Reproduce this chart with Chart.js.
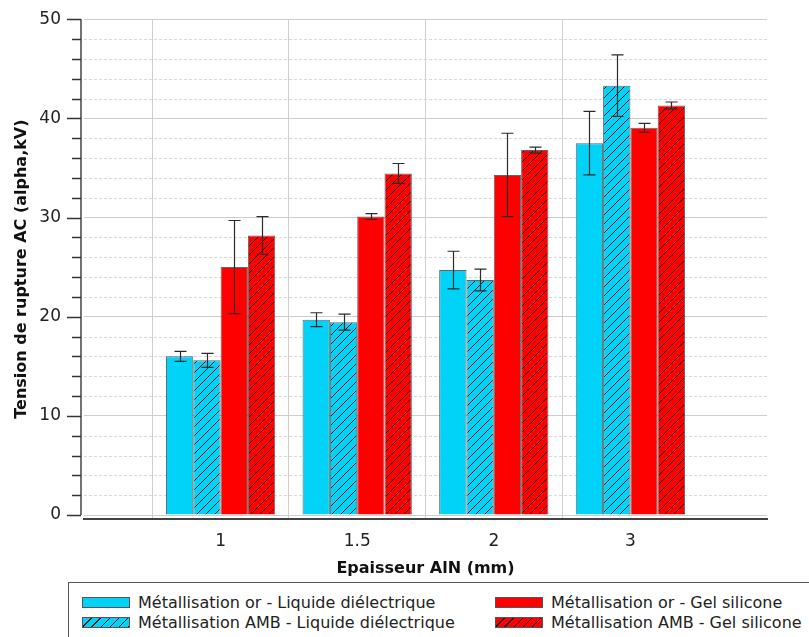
<!DOCTYPE html>
<html>
<head>
<meta charset="utf-8">
<script src="https://cdn.jsdelivr.net/npm/chart.js@4.4.0/dist/chart.umd.min.js"></script>
<style>
  body { margin: 0; background: #fff; }
  #wrap { position: relative; width: 809px; height: 637px; overflow: hidden; }
  #legend {
    position: absolute; left: 68px; top: 582px; width: 800px; height: 80px;
    border: 1.5px solid #555; background: #fff;
    font-family: 'DejaVu Sans', sans-serif; font-size: 16px; color: #222;
  }
  .item { position: absolute; display: flex; align-items: center; height: 20px; }
  .sw { width: 46px; height: 9px; border: 1px solid #555; margin-right: 8px; }
</style>
</head>
<body>
<div id="wrap">
  <canvas id="chart"></canvas>
  <div id="legend"></div>
</div>
<script>
// epaisseur AlN (mm) - empty slots at both ends keep the axis margins
const categories = ['', '1', '1.5', '2', '3', ''];

const orLiquide = [null, 16.0, 19.7, 24.7, 37.5, null];
const ambLiquide = [null, 15.6, 19.45, 23.7, 43.3, null];
const orGel = [null, 25.0, 30.1, 34.3, 39.05, null];
const ambGel = [null, 28.2, 34.45, 36.8, 41.3, null];

const orLiquideErr = [0, 0.5, 0.7, 1.9, 3.2, 0];
const ambLiquideErr = [0, 0.7, 0.8, 1.1, 3.1, 0];
const orGelErr = [0, 4.7, 0.3, 4.2, 0.45, 0];
const ambGelErr = [0, 1.9, 1.0, 0.3, 0.35, 0];

const seriesNames = [
  'Métallisation or - Liquide diélectrique',
  'Métallisation AMB - Liquide diélectrique',
  'Métallisation or - Gel silicone',
  'Métallisation AMB - Gel silicone'
];

const cyan = '#00d3f7';
const red = '#ff0000';

function hatch(color) {
  const c = document.createElement('canvas');
  c.width = c.height = 9;
  const g = c.getContext('2d');
  g.fillStyle = color;
  g.fillRect(0, 0, 9, 9);
  g.strokeStyle = '#1a1a1a';
  g.lineWidth = 1;
  g.beginPath();
  g.moveTo(0, 9); g.lineTo(9, 0);
  g.moveTo(-2, 2); g.lineTo(2, -2);
  g.moveTo(7, 11); g.lineTo(11, 7);
  g.stroke();
  return g.createPattern(c, 'repeat');
}

const fills = [cyan, hatch(cyan), red, hatch(red)];

// dashed minor grid lines, detached y axis line and its ticks
const yDecor = {
  id: 'yDecor',
  beforeDatasetsDraw(chart) {
    const { ctx, chartArea, scales: { y } } = chart;
    ctx.save();
    ctx.strokeStyle = '#d9d9d9';
    ctx.lineWidth = 1;
    ctx.setLineDash([3, 2]);
    y.ticks.forEach(t => {
      if (t.value % 10 === 0) return;
      const py = Math.round(y.getPixelForValue(t.value)) + 0.5;
      ctx.beginPath();
      ctx.moveTo(chartArea.left, py);
      ctx.lineTo(chartArea.right, py);
      ctx.stroke();
    });
    ctx.restore();
  },
  afterDraw(chart) {
    const { ctx, chartArea, scales: { y } } = chart;
    const ax = chartArea.left - 3;
    ctx.save();
    ctx.strokeStyle = '#444';
    ctx.lineWidth = 1.5;
    ctx.beginPath();
    ctx.moveTo(ax, y.getPixelForValue(50));
    ctx.lineTo(ax, y.getPixelForValue(0));
    ctx.stroke();
    ctx.strokeStyle = '#333';
    y.ticks.forEach(t => {
      const py = Math.round(y.getPixelForValue(t.value)) + 0.5;
      const len = t.value % 10 === 0 ? 14 : 9;
      ctx.beginPath();
      ctx.moveTo(ax - len, py);
      ctx.lineTo(ax, py);
      ctx.stroke();
    });
    ctx.restore();
  }
};

const errorBars = {
  id: 'errorBars',
  afterDatasetsDraw(chart) {
    const { ctx, scales: { y } } = chart;
    ctx.save();
    ctx.strokeStyle = '#2b2b2b';
    ctx.lineWidth = 1.2;
    chart.data.datasets.forEach((ds, i) => {
      const meta = chart.getDatasetMeta(i);
      meta.data.forEach((bar, j) => {
        const v = ds.data[j];
        if (v == null) return;
        const e = ds.errors[j];
        const top = y.getPixelForValue(v + e);
        const bot = y.getPixelForValue(v - e);
        const x = Math.round(bar.x) + 0.5;
        ctx.beginPath();
        ctx.moveTo(x, top); ctx.lineTo(x, bot);
        ctx.moveTo(x - 6, top); ctx.lineTo(x + 6, top);
        ctx.moveTo(x - 6, bot); ctx.lineTo(x + 6, bot);
        ctx.stroke();
      });
    });
    ctx.restore();
  }
};

const values = [orLiquide, ambLiquide, orGel, ambGel];
const errors = [orLiquideErr, ambLiquideErr, orGelErr, ambGelErr];

new Chart(document.getElementById('chart'), {
  type: 'bar',
  data: {
    labels: categories,
    datasets: values.map((d, i) => ({
      label: seriesNames[i],
      data: d,
      errors: errors[i],
      backgroundColor: fills[i],
      borderColor: 'rgba(50,50,50,0.75)',
      borderWidth: 1,
      categoryPercentage: 0.8,
      barPercentage: 1.0
    }))
  },
  options: {
    responsive: true,
    maintainAspectRatio: false,
    animation: false,
    layout: { padding: { top: 19, right: 42, bottom: 56, left: 0 } },
    plugins: {
      legend: { display: false },
      tooltip: { enabled: false }
    },
    scales: {
      x: {
        offset: false,
        grid: {
          color: c => (c.index >= 1 && c.index <= 4) ? '#cfcfcf' : 'rgba(0,0,0,0)',
          drawTicks: false
        },
        border: { display: true, color: '#444', width: 2 },
        ticks: {
          autoSkip: false,
          maxRotation: 0,
          padding: 12,
          color: '#222',
          font: { family: 'DejaVu Sans', size: 17 }
        },
        title: {
          display: true,
          text: 'Epaisseur AlN (mm)',
          color: '#111',
          padding: { top: 0, bottom: 3 },
          font: { family: 'DejaVu Sans', size: 16, weight: 'bold' }
        },
        afterFit: s => { s.height = 62; }
      },
      y: {
        min: -0.4,
        max: 50,
        grid: {
          color: c => (c.tick && c.tick.value % 10 === 0) ? '#cdcdcd' : 'rgba(0,0,0,0)',
          drawTicks: true,
          tickLength: 14,
          tickColor: 'rgba(0,0,0,0)'
        },
        border: { display: false },
        ticks: {
          stepSize: 2,
          includeBounds: false,
          autoSkip: false,
          padding: 9,
          color: '#222',
          font: { family: 'DejaVu Sans', size: 17 },
          callback: v => (v % 10 === 0 ? String(v) : '')
        },
        title: {
          display: true,
          text: 'Tension de rupture AC (alpha,kV)',
          color: '#111',
          padding: { top: 12, bottom: 0 },
          font: { family: 'DejaVu Sans', size: 16, weight: 'bold' }
        },
        afterFit: s => { s.width = 84; }
      }
    }
  },
  plugins: [yDecor, errorBars]
});

// legend laid out in two columns like the original
const legend = document.getElementById('legend');
const swatchCss = [
  'background:' + cyan,
  'background: repeating-linear-gradient(135deg, ' + cyan + ' 0 5.5px, #1a1a1a 5.5px 6.5px)',
  'background:' + red,
  'background: repeating-linear-gradient(135deg, ' + red + ' 0 5.5px, #1a1a1a 5.5px 6.5px)'
];
const legendPos = [[13, 9], [13, 29], [426, 9], [426, 29]];
seriesNames.forEach((name, i) => {
  const el = document.createElement('div');
  el.className = 'item';
  el.style.left = legendPos[i][0] + 'px';
  el.style.top = legendPos[i][1] + 'px';
  el.innerHTML = '<div class="sw" style="' + swatchCss[i] + '"></div><span></span>';
  el.querySelector('span').textContent = name;
  legend.appendChild(el);
});
</script>
</body>
</html>
